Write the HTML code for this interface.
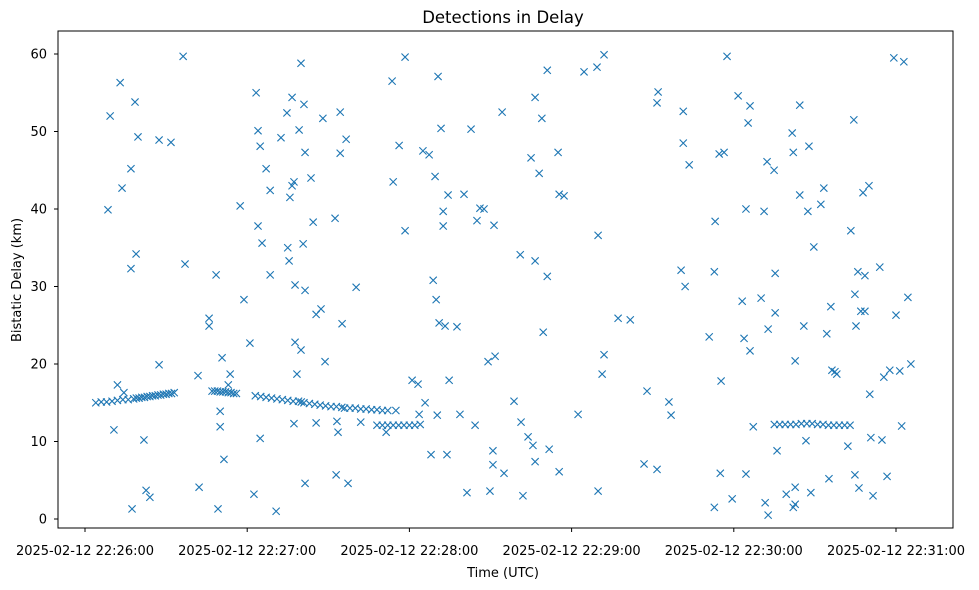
<!DOCTYPE html>
<html><head><meta charset="utf-8"><style>
html,body{margin:0;padding:0;background:#fff;}
svg{display:block;font-family:"DejaVu Sans","Liberation Sans",sans-serif;}
</style></head><body>
<svg id="chart" width="979" height="590" xmlns="http://www.w3.org/2000/svg">
<rect x="0" y="0" width="979" height="590" fill="#fff"/>
<text x="503" y="23" text-anchor="middle" font-size="16.5" fill="#000">Detections in Delay</text>
<g id="plot"></g>
<g id="axes"></g>
<text x="503" y="577" text-anchor="middle" font-size="13">Time (UTC)</text>
<text transform="translate(21,280) rotate(-90)" text-anchor="middle" font-size="13">Bistatic Delay (km)</text>
</svg>
<script>
// seconds after 2025-02-12 22:26:00
const times = [4,6,8,10,12,14,16,18,19,20,21,22,23,24,25,26,27,28,29,30,31,32,33,
47,48,49,50,51,52,53,54,55,56,
63,65,67,69,71,73,75,77,79,80,
81,83,85,87,89,91,93,95,96,
98,100,102,104,106,108,110,112,115,
108,110,112,114,116,118,120,122,124,
255,257,259,261,263,265,267,269,271,273,275,277,279,281,283,
8.5,9.3,10.7,12,13,13.7,14.4,17,17,18.5,18.9,19.6,17.4,21.8,22.6,24,27.4,27.4,31.8,36.3,37,41.8,42.2,45.9,45.9,48.5,49.2,50,50,50.7,51.4,53,53.7,57.4,58.8,61,62.5,63.3,64,64,64.8,64.8,65.5,67,68.5,68.5,70.7,72.5,74.7,75,75.5,75.8,76.6,76.6,77.3,77.3,77.7,77.7,78.4,79.2,79.9,79.9,80.7,81,81.4,81.4,81.4,83.6,84.4,85.5,85.5,87.3,88,88.8,92.5,92.9,93.2,93.6,94.4,94.4,95.1,96.6,97.3,100.3,102,113.6,114,116.2,118.4,118.4,111.4,121,123.2,123.6,125,125.8,127.3,128,128.8,129.5,129.9,130.3,130.6,131,131.7,132.5,132.5,133.2,133.9,134.3,134.7,137.6,138.7,140.2,141.3,142.8,144.3,145,146.1,147.6,149.1,149.8,150.9,150.9,151.3,151.7,154.3,155,158.7,161,161.3,162,163.9,165,165.7,166.5,166.5,166.5,168,169,169.5,171,171,171.7,175,175.4,175.4,177.2,182.4,184.6,189.4,189.8,189.8,191.3,192,192,197.2,201.7,206.8,207.9,211.6,212,211.6,216,216.8,220.5,221.3,222,221.3,223.5,230.9,232.8,233.1,232.8,234.6,235,235.3,236.4,237.5,239.4,241.6,243.1,243.8,244.5,244.5,245.3,246,246,247.2,250.1,251.2,251.6,252.3,252.7,252.7,254.9,255.3,255.3,256,261.6,262,262.7,262.7,262.7,262,264.4,264.4,265.9,266.7,267.4,267.8,268.5,269.6,259.4,272.2,273.3,274.4,275.2,275.9,276.3,277.4,278.1,282.2,283.3,284.4,284.8,285.2,284.8,285.9,286.3,287,287.8,288.5,288.5,290,290.3,290.7,291.5,294,294.8,295.5,296.7,297.7,299.2,300,301.4,302.1,302.9,304.4,305.5];
const delays = [15.0,15.1,15.1,15.2,15.3,15.4,15.4,15.5,15.6,15.6,15.7,15.7,15.8,15.8,15.9,15.9,16.0,16.0,16.1,16.1,16.2,16.2,16.3,
16.5,16.5,16.5,16.4,16.4,16.4,16.3,16.3,16.2,16.2,
15.9,15.8,15.7,15.6,15.5,15.4,15.3,15.2,15.2,15.1,
15.0,14.9,14.8,14.7,14.6,14.5,14.5,14.4,14.3,
14.3,14.3,14.2,14.2,14.1,14.1,14.0,14.0,14.0,
12.1,12.1,12.1,12.1,12.1,12.1,12.1,12.1,12.2,
12.2,12.2,12.2,12.2,12.2,12.3,12.3,12.3,12.2,12.2,12.1,12.1,12.1,12.1,12.1,
39.9,52.0,11.5,17.3,56.3,42.7,16.3,45.2,32.3,53.8,34.2,49.3,1.3,10.2,3.7,2.8,48.9,19.9,48.6,59.7,32.9,18.5,4.1,25.9,24.9,31.5,1.3,13.9,11.9,20.8,7.7,17.3,18.7,40.4,28.3,22.7,3.2,55.0,50.1,37.8,48.1,10.4,35.6,45.2,42.4,31.5,1.0,49.2,52.4,35.0,33.3,41.5,54.4,43.0,43.5,12.3,30.2,22.8,18.7,50.2,58.8,21.8,35.5,53.5,47.3,29.5,4.6,44.0,38.3,26.4,12.4,27.1,51.7,20.3,38.8,5.7,12.6,11.2,52.5,47.2,25.2,49.0,4.6,29.9,12.5,56.5,43.5,48.2,59.6,37.2,11.2,17.9,17.4,13.5,47.5,15.0,47.0,8.3,30.8,44.2,28.3,13.4,57.1,25.3,50.4,39.7,37.8,24.9,8.3,41.8,17.9,24.8,13.5,41.9,3.4,50.3,12.1,38.5,40.1,40.0,20.3,3.6,8.8,7.0,37.9,21.0,52.5,5.9,15.2,34.1,12.5,3.0,10.6,46.6,9.5,54.4,33.3,7.4,44.6,51.7,24.1,57.9,31.3,9.0,47.3,41.9,6.1,41.7,13.5,57.7,58.3,36.6,3.6,18.7,21.2,59.9,25.9,25.7,7.1,16.5,53.7,55.1,6.4,15.1,13.4,32.1,48.5,30.0,52.6,45.7,23.5,31.9,38.4,1.5,47.1,5.9,17.8,47.3,59.7,2.6,54.6,28.1,23.3,40.0,5.8,51.1,53.3,21.7,11.9,28.5,39.7,2.1,46.1,24.5,0.5,45.0,31.7,26.6,8.8,49.8,47.3,20.4,4.1,1.9,1.5,53.4,41.8,24.9,10.1,39.7,48.1,3.4,35.1,3.2,40.6,42.7,23.9,5.2,27.4,19.2,19.0,18.7,9.4,37.2,51.5,29.0,24.9,5.7,31.9,4.0,26.8,42.1,26.8,31.4,43.0,16.1,10.5,3.0,32.5,10.2,18.3,5.5,19.2,59.5,26.3,19.1,12.0,59.0,28.6,20.0];
const xTickValues = [0,60,120,180,240,300];
const xTickLabels = ["2025-02-12 22:26:00","2025-02-12 22:27:00","2025-02-12 22:28:00","2025-02-12 22:29:00","2025-02-12 22:30:00","2025-02-12 22:31:00"];
const yTickValues = [0,10,20,30,40,50,60];

const NS="http://www.w3.org/2000/svg";
const L=58,R=953,T=31,B=528;
const xs=t=>85+t*(811/300);
const ys=v=>519-v*7.75;
const plot=document.getElementById('plot'), axes=document.getElementById('axes');
function mk(tag,attrs,parent){const e=document.createElementNS(NS,tag);for(const k in attrs)e.setAttribute(k,attrs[k]);parent.appendChild(e);return e;}

for(let i=0;i<times.length;i++){
  const x=xs(times[i]),y=ys(delays[i]),s=3.6;
  const p=mk('path',{d:`M${x-s},${y-s}L${x+s},${y+s}M${x-s},${y+s}L${x+s},${y-s}`,stroke:'#1f77b4','stroke-width':1.1,fill:'none'},plot);
  
  
}
const frame=mk('rect',{x:L,y:T,width:R-L,height:B-T,fill:'none',stroke:'#000','stroke-width':1},axes);


xTickValues.forEach((v,i)=>{
  const x=xs(v);
  const tk=mk('line',{x1:x,x2:x,y1:B,y2:B+4,stroke:'#000'},axes);
  
  
  const t=mk('text',{x:x,y:B+27,'text-anchor':'middle','font-size':13},axes);
  t.textContent=xTickLabels[i];
  
  
});
yTickValues.forEach(v=>{
  const y=ys(v);
  const tk=mk('line',{x1:L-4,x2:L,y1:y,y2:y,stroke:'#000'},axes);
  
  
  const t=mk('text',{x:L-11,y:y+4.5,'text-anchor':'end','font-size':13},axes);
  t.textContent=String(v);
  
  
});
</script>
</body></html>
